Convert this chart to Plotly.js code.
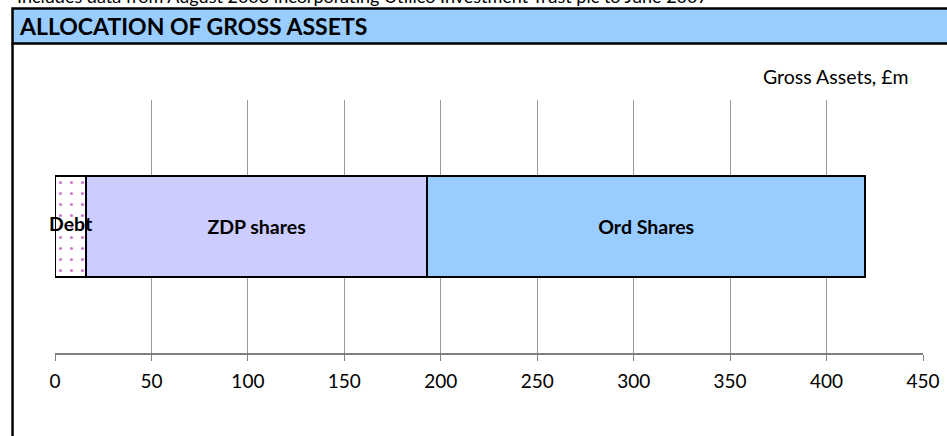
<!DOCTYPE html>
<html>
<head>
<meta charset="utf-8">
<script src="https://cdn.plot.ly/plotly-3.0.1.min.js"></script>
<style>
html,body{margin:0;padding:0;background:#fff;}
#chart{width:947px;height:436px;}
</style>
</head>
<body>
<div id="chart"></div>
<script>
// ---- Data ----
const category = ['Gross Assets'];
const seriesNames = ['Debt', 'ZDP shares', 'Ord Shares'];
const debt = [16];
const zdp = [177];
const ord = [227];
const tickValues = [0, 50, 100, 150, 200, 250, 300, 350, 400, 450];

const chartTitle = 'ALLOCATION OF GROSS ASSETS';
const topNote = 'Includes data from August 2003 incorporating Utilico Investment Trust plc to June 2007';
const axisNote = 'Gross Assets, £m';

// ---- Layout helpers (pixel -> paper) ----
const W = 947, H = 436;
const M = {l: 54.5, r: 24, t: 100, b: 83.3};
const PW = W - M.l - M.r, PH = H - M.t - M.b;
const xp = px => (px - M.l) / PW;
const yp = py => 1 - (py - M.t) / PH;

const FONT = 'Lato, "Open Sans", sans-serif';
const labelFont = {family: FONT, size: 19.5, color: '#000', weight: 'bold'};

const commonBar = {
  type: 'bar', orientation: 'h', y: category, width: 0.4,
  textposition: 'inside', insidetextanchor: 'middle', constraintext: 'none',
  textangle: 0,
  textfont: labelFont,
  hoverinfo: 'x+name'
};

const traces = [
  Object.assign({}, commonBar, {
    name: seriesNames[0], x: debt, textposition: 'none',
    marker: {color: '#ffffff', line: {color: '#000', width: 2},
      pattern: {shape: '.', fgcolor: '#cc77cc', bgcolor: '#ffffff', size: 11, solidity: 0.06}}
  }),
  Object.assign({}, commonBar, {
    name: seriesNames[1], x: zdp, text: [seriesNames[1]],
    marker: {color: '#ccccff', line: {color: '#000', width: 2}}
  }),
  Object.assign({}, commonBar, {
    name: seriesNames[2], x: ord, text: [seriesNames[2]],
    marker: {color: '#99ccff', line: {color: '#000', width: 2}}
  })
];

const layout = {
  width: W, height: H,
  margin: M,
  paper_bgcolor: '#fff', plot_bgcolor: '#fff',
  barmode: 'stack',
  showlegend: false,
  font: {family: FONT, size: 19, color: '#000'},
  xaxis: {
    range: [0, 450], tickvals: tickValues, ticktext: tickValues.map(String),
    showgrid: true, gridcolor: '#9a9a9a', gridwidth: 1,
    zeroline: false,
    showline: true, linecolor: '#7f7f7f', linewidth: 1.5,
    ticks: 'outside', ticklen: 6, tickcolor: '#7f7f7f', tickwidth: 1,
    ticklabelstandoff: 5,
    tickfont: {family: FONT, size: 19, color: '#000'},
    fixedrange: true
  },
  yaxis: {
    range: [-0.5, 0.5], visible: false, fixedrange: true
  },
  shapes: [
    {type: 'rect', xref: 'paper', yref: 'paper',
     x0: xp(12), x1: xp(952), y0: yp(43.5), y1: yp(8.5),
     fillcolor: '#99ccff', line: {color: '#000', width: 2.5}, layer: 'above'},
    {type: 'line', xref: 'paper', yref: 'paper',
     x0: xp(12), x1: xp(12), y0: yp(43.5), y1: yp(440),
     line: {color: '#000', width: 2.5}}
  ],
  annotations: [
    {text: seriesNames[0], xref: 'x', yref: 'y',
     x: debt[0] / 2, y: category[0], xanchor: 'center', yanchor: 'middle',
     xshift: 1, yshift: 3, showarrow: false, font: labelFont},
    {text: '<b>' + chartTitle + '</b>', xref: 'paper', yref: 'paper',
     x: xp(16), y: yp(26.5), xanchor: 'left', yanchor: 'middle', showarrow: false,
     font: {family: FONT, size: 23, color: '#000'}},
    {text: topNote, xref: 'paper', yref: 'paper',
     x: xp(14), y: yp(-4), xanchor: 'left', yanchor: 'middle', showarrow: false,
     font: {family: FONT, size: 18, color: '#000'}},
    {text: axisNote, xref: 'paper', yref: 'paper',
     x: xp(911), y: yp(77), xanchor: 'right', yanchor: 'middle', showarrow: false,
     font: {family: FONT, size: 19.5, color: '#000'}}
  ]
};

Plotly.newPlot('chart', traces, layout, {displayModeBar: false, staticPlot: true});
</script>
</body>
</html>
